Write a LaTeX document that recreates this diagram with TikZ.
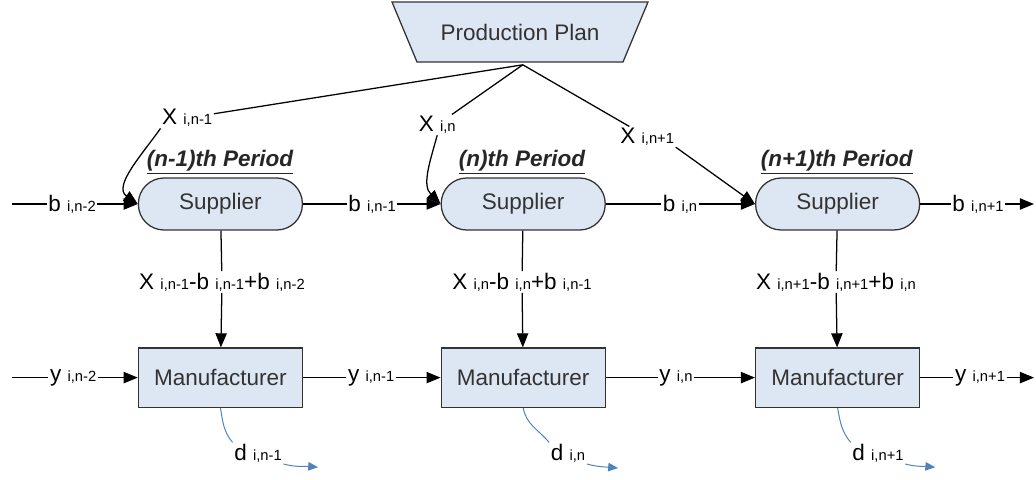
\documentclass[tikz,border=0pt]{standalone}
\usepackage{fontspec}
\setmainfont{Liberation Sans}
\usetikzlibrary{shapes.geometric, arrows.meta, positioning}
\definecolor{boxfill}{RGB}{221, 230, 243}
\definecolor{boxline}{RGB}{50, 50, 50}
\definecolor{demand}{RGB}{79, 129, 189}
\newcommand{\subidx}[1]{{\fontsize{10.5}{11}\selectfont #1}}

\begin{document}
\begin{tikzpicture}[
    plan/.style={draw=boxline, fill=boxfill, trapezium, shape border rotate=180, trapezium left angle=46, trapezium right angle=46, trapezium stretches body=true, minimum width=6.4cm, minimum height=1.5cm, line width=0.9pt, text=black!80, font=\fontsize{16}{18}\selectfont},
    supplier/.style={draw=boxline, fill=boxfill, rounded corners=0.64cm, minimum width=4.1cm, minimum height=1.3cm, line width=0.9pt, text=black!80, font=\fontsize{16}{18}\selectfont},
    manuf/.style={draw=boxline, fill=boxfill, minimum width=4.1cm, minimum height=1.48cm, line width=0.9pt, text=black!80, font=\fontsize{16}{18}\selectfont},
    period/.style={font=\fontsize{16}{18}\selectfont\bfseries\itshape, text=black!85},
    lbl/.style={inner sep=1pt, font=\fontsize{16}{18}\selectfont},
    flow/.style={-{Triangle[length=10pt,width=8pt]}, line width=0.9pt},
    dem/.style={draw=demand, line width=0.7pt},
]
    \useasboundingbox (0,0) rectangle (25.9,-11.975);

    % Production plan
    \node[plan] (plan) at (13.0, -0.8) {Production Plan};
    \coordinate (apex) at (13.07, -1.62);

    % Suppliers and manufacturers
    \node[supplier] (sup1) at (5.51, -5.1) {Supplier};
    \node[supplier] (sup2) at (13.08, -5.1) {Supplier};
    \node[supplier] (sup3) at (20.94, -5.1) {Supplier};
    \node[manuf] (man1) at (5.51, -9.44) {Manufacturer};
    \node[manuf] (man2) at (13.08, -9.44) {Manufacturer};
    \node[manuf] (man3) at (20.94, -9.44) {Manufacturer};

    % Periods
    \node[period] (per1) at (5.5, -4.05) {\underline{(n-1)th Period}};
    \node[period] (per2) at (13.05, -4.05) {\underline{(n)th Period}};
    \node[period] (per3) at (20.92, -4.05) {\underline{(n+1)th Period}};

    % Planned quantities
    \node[lbl] (x1) at (4.68, -2.95) {X \subidx{i,n-1}};
    \node[lbl] (x2) at (10.93, -3.12) {X \subidx{i,n}};
    \node[lbl] (x3) at (16.18, -3.42) {X \subidx{i,n+1}};

    \draw[line width=0.9pt] (apex) -- (x1);
    \draw[line width=0.9pt] (apex) -- (x2);
    \draw[line width=0.9pt] (apex) -- (x3);
    \draw[flow] (x1.south west) to[out=-125, in=145] (sup1.west);
    \draw[flow] (x2.south) to[out=-105, in=135] (sup2.west);
    \draw[flow] (x3.south east) -- (sup3.west);

    % Shipments supplier -> manufacturer
    \node[lbl] (f1) at (5.55, -7.05) {X \subidx{i,n-1}-b \subidx{i,n-1}+b \subidx{i,n-2}};
    \node[lbl] (f2) at (13.05, -7.05) {X \subidx{i,n}-b \subidx{i,n}+b \subidx{i,n-1}};
    \node[lbl] (f3) at (20.9, -7.05) {X \subidx{i,n+1}-b \subidx{i,n+1}+b \subidx{i,n}};
    \foreach \i in {1,2,3} {
        \draw[line width=0.9pt] (sup\i) -- (f\i);
        \draw[flow] (f\i) -- (man\i);
    }

    % Supplier inventory chain
    \coordinate (bin) at (0.3, -5.1);
    \coordinate (bout) at (25.85, -5.1);
    \node[lbl] (b0) at (1.8, -5.1) {b \subidx{i,n-2}};
    \node[lbl] (b1) at (9.3, -5.1) {b \subidx{i,n-1}};
    \node[lbl] (b2) at (17.0, -5.1) {b \subidx{i,n}};
    \node[lbl] (b3) at (24.45, -5.1) {b \subidx{i,n+1}};
    \draw[line width=0.9pt] (bin) -- (b0);
    \draw[flow] (b0) -- (sup1);
    \draw[line width=0.9pt] (sup1) -- (b1);
    \draw[flow] (b1) -- (sup2);
    \draw[line width=0.9pt] (sup2) -- (b2);
    \draw[flow] (b2) -- (sup3);
    \draw[line width=0.9pt] (sup3) -- (b3);
    \draw[flow] (b3) -- (bout);

    % Manufacturer inventory chain
    \coordinate (yin) at (0.3, -9.44);
    \coordinate (yout) at (25.85, -9.44);
    \node[lbl] (y0) at (1.83, -9.44) {y \subidx{i,n-2}};
    \node[lbl] (y1) at (9.28, -9.44) {y \subidx{i,n-1}};
    \node[lbl] (y2) at (16.9, -9.44) {y \subidx{i,n}};
    \node[lbl] (y3) at (24.5, -9.44) {y \subidx{i,n+1}};
    \draw[line width=0.9pt] (yin) -- (y0);
    \draw[flow] (y0) -- (man1);
    \draw[line width=0.9pt] (man1) -- (y1);
    \draw[flow] (y1) -- (man2);
    \draw[line width=0.9pt] (man2) -- (y2);
    \draw[flow] (y2) -- (man3);
    \draw[line width=0.9pt] (man3) -- (y3);
    \draw[flow] (y3) -- (yout);

    % Demand
    \node[lbl] (d1) at (6.45, -11.33) {d \subidx{i,n-1}};
    \node[lbl] (d2) at (14.2, -11.33) {d \subidx{i,n}};
    \node[lbl] (d3) at (21.95, -11.33) {d \subidx{i,n+1}};
    \coordinate (d1e) at (7.95, -11.68);
    \coordinate (d2e) at (15.45, -11.7);
    \coordinate (d3e) at (23.38, -11.68);
    \foreach \i in {1,2,3} {
        \draw[dem] (man\i.south) to[out=-80, in=130] (d\i.north west);
        \draw[dem, -{Triangle[length=7pt,width=6pt]}] (d\i.south east) to[out=-15, in=175] (d\i e);
    }

\end{tikzpicture}
\end{document}
